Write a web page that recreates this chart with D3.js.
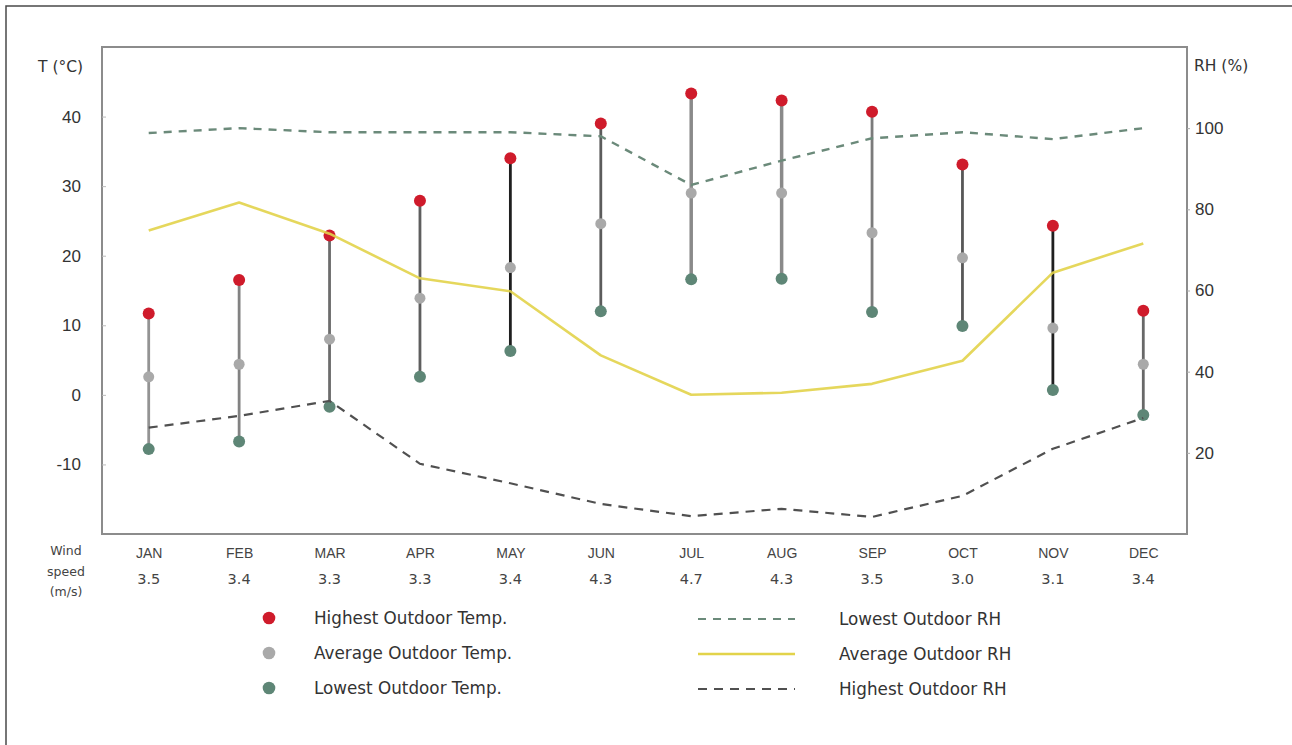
<!DOCTYPE html>
<html>
<head>
<meta charset="utf-8">
<script src="https://cdn.jsdelivr.net/npm/d3@7"></script>
<style>
  body { margin: 0; background: #fff; }
  svg { display: block; font-family: "DejaVu Sans", "Liberation Sans", sans-serif; }
</style>
</head>
<body>
<svg id="chart" width="1292" height="745"></svg>
<script>
// Monthly climate summary: temperatures (°C), relative humidity (%), wind speed (m/s)
const months = ["JAN", "FEB", "MAR", "APR", "MAY", "JUN", "JUL", "AUG", "SEP", "OCT", "NOV", "DEC"];
const windSpeed = [3.5, 3.4, 3.3, 3.3, 3.4, 4.3, 4.7, 4.3, 3.5, 3.0, 3.1, 3.4];

const tempHigh = [11.7, 16.5, 22.9, 27.9, 34.0, 39.0, 43.3, 42.3, 40.7, 33.1, 24.3, 12.1];
const tempAvg  = [2.6, 4.4, 8.0, 13.9, 18.3, 24.6, 29.0, 29.0, 23.3, 19.7, 9.6, 4.4];
const tempLow  = [-7.8, -6.7, -1.7, 2.6, 6.3, 12.0, 16.6, 16.7, 11.9, 9.9, 0.7, -2.9];

const rhUpper = [98.8, 100, 99, 99, 99, 98, 86, 92, 97.5, 99, 97.3, 100];
const rhAvg   = [74.8, 81.7, 74.0, 63.0, 59.8, 44.0, 34.3, 34.8, 37.0, 42.7, 64.4, 71.6];
const rhLower = [26.2, 29.1, 32.8, 17.3, 12.5, 7.4, 4.4, 6.2, 4.2, 9.4, 21.0, 28.6];

const tempTicks = [-10, 0, 10, 20, 30, 40];
const rhTicks = [20, 40, 60, 80, 100];

const tempLegend = ["Highest Outdoor Temp.", "Average Outdoor Temp.", "Lowest Outdoor Temp."];
const rhLegend = ["Lowest Outdoor RH", "Average Outdoor RH", "Highest Outdoor RH"];

// ---- layout ----
const svg = d3.select("#chart");
const plot = { left: 102, right: 1187, top: 47, bottom: 534 };

const x = d3.scalePoint().domain(months).range([plot.left + 1.5, plot.right + 1.5]).padding(0.5);
const yT = d3.scaleLinear().domain([-20, 50]).range([plot.bottom, plot.top]);
const yR = d3.scaleLinear().domain([0, 120]).range([plot.bottom, plot.top]);

const colors = {
  high: "#cf1b2b",
  avg: "#a9a9a9",
  low: "#5e8676",
  rhUpper: "#6b8a7a",
  rhAvg: "#e2d34a",
  rhLower: "#505050",
  axis: "#8c8c8c",
  text: "#333"
};
const stemShade = {
  JAN: "#939393", FEB: "#828282", MAR: "#6c6c6c", APR: "#5e5e5e", MAY: "#1f1f1f", JUN: "#5c5c5c",
  JUL: "#8a8a8a", AUG: "#8a8a8a", SEP: "#7b7b7b", OCT: "#575757", NOV: "#1f1f1f", DEC: "#686868"
};

// outer frame edges
svg.append("path")
  .attr("d", `M6,745 L6,6 L1292,6`)
  .attr("fill", "none").attr("stroke", "#4a4a4a").attr("stroke-width", 1.5);

// plot box
svg.append("rect")
  .attr("x", plot.left).attr("y", plot.top)
  .attr("width", plot.right - plot.left).attr("height", plot.bottom - plot.top)
  .attr("fill", "none").attr("stroke", colors.axis).attr("stroke-width", 2);

// left temperature axis (plain hyphen for negatives)
const leftAxis = svg.append("g")
  .attr("transform", `translate(${plot.left},0)`)
  .call(d3.axisLeft(yT).tickValues(tempTicks).tickFormat(d => String(d)).tickSize(-4).tickPadding(21));
leftAxis.select(".domain").remove();
leftAxis.selectAll(".tick line").attr("stroke", "#bbb");
leftAxis.selectAll(".tick text")
  .attr("fill", colors.text).style("font-size", "17px");

// right humidity axis
const rightAxis = svg.append("g")
  .attr("transform", `translate(${plot.right},0)`)
  .call(d3.axisRight(yR).tickValues(rhTicks).tickFormat(d => String(d)).tickSize(3).tickPadding(5));
rightAxis.select(".domain").remove();
rightAxis.selectAll(".tick line").attr("stroke", "#aaa");
rightAxis.selectAll(".tick text")
  .attr("fill", colors.text).style("font-size", "17px");

// axis titles
svg.append("text").attr("x", 38).attr("y", 72)
  .attr("fill", colors.text).style("font-size", "15.5px").text("T (°C)");
svg.append("text").attr("x", 1194).attr("y", 71)
  .attr("fill", colors.text).style("font-size", "15.5px").text("RH (%)");

// month labels
const bottomAxis = svg.append("g")
  .attr("transform", `translate(0,${plot.bottom})`)
  .call(d3.axisBottom(x).tickSize(0).tickPadding(14));
bottomAxis.select(".domain").remove();
bottomAxis.selectAll(".tick text")
  .attr("fill", "#444").style("font-size", "14px");

// wind speed row
svg.append("g").selectAll("text")
  .data(months)
  .join("text")
  .attr("x", d => x(d))
  .attr("y", 584)
  .attr("text-anchor", "middle")
  .attr("fill", "#444")
  .style("font-size", "14.5px")
  .text((d, i) => windSpeed[i].toFixed(1));

svg.append("text")
  .attr("text-anchor", "middle").attr("fill", "#444").style("font-size", "12.5px")
  .selectAll("tspan")
  .data(["Wind", "speed", "(m/s)"])
  .join("tspan")
  .attr("x", 66)
  .attr("y", (d, i) => 555 + i * 20.5)
  .text(d => d);

// temperature range stems and dots
const stems = svg.append("g");
months.forEach((m, i) => {
  stems.append("line")
    .attr("x1", x(m)).attr("x2", x(m))
    .attr("y1", yT(tempLow[i])).attr("y2", yT(tempHigh[i]))
    .attr("stroke", stemShade[m])
    .attr("stroke-width", (m === "JUL" || m === "AUG") ? 3.5 : 2.8);
});

const dotR = 6;
svg.append("g").selectAll("circle")
  .data(months).join("circle")
  .attr("cx", d => x(d)).attr("cy", (d, i) => yT(tempAvg[i]))
  .attr("r", dotR - 0.5).attr("fill", colors.avg);
svg.append("g").selectAll("circle")
  .data(months).join("circle")
  .attr("cx", d => x(d)).attr("cy", (d, i) => yT(tempLow[i]))
  .attr("r", dotR).attr("fill", colors.low);
svg.append("g").selectAll("circle")
  .data(months).join("circle")
  .attr("cx", d => x(d)).attr("cy", (d, i) => yT(tempHigh[i]))
  .attr("r", dotR).attr("fill", colors.high);

// humidity lines
const rhLine = vals => d3.line()
  .x((d, i) => x(months[i]))
  .y(d => yR(d))(vals);

svg.append("path")
  .attr("d", rhLine(rhAvg))
  .attr("fill", "none").attr("stroke", colors.rhAvg)
  .attr("stroke-width", 2.6).attr("stroke-opacity", 0.9)
  .attr("stroke-linejoin", "round");

svg.append("path")
  .attr("d", rhLine(rhUpper))
  .attr("fill", "none").attr("stroke", colors.rhUpper)
  .attr("stroke-width", 2.4).attr("stroke-dasharray", "8,7");

svg.append("path")
  .attr("d", rhLine(rhLower))
  .attr("fill", "none").attr("stroke", colors.rhLower)
  .attr("stroke-width", 2.2).attr("stroke-dasharray", "9,7");

// legend: temperature markers
const legT = svg.append("g");
const tColors = [colors.high, colors.avg, colors.low];
const legRows = [618, 653, 688];
tempLegend.forEach((label, i) => {
  legT.append("circle").attr("cx", 269).attr("cy", legRows[i]).attr("r", 6.3).attr("fill", tColors[i]);
  legT.append("text").attr("x", 314).attr("y", legRows[i] + 6)
    .attr("fill", colors.text).style("font-size", "16.8px").text(label);
});

// legend: humidity lines
const legR = svg.append("g");
const rStyles = [
  { stroke: colors.rhUpper, dash: "8,7", w: 2 },
  { stroke: colors.rhAvg, dash: null, w: 2.4 },
  { stroke: colors.rhLower, dash: "9,7", w: 2 }
];
const legRowsR = [619, 654, 689];
rhLegend.forEach((label, i) => {
  legR.append("line")
    .attr("x1", 698).attr("x2", 795)
    .attr("y1", legRowsR[i]).attr("y2", legRowsR[i])
    .attr("stroke", rStyles[i].stroke).attr("stroke-width", rStyles[i].w)
    .attr("stroke-dasharray", rStyles[i].dash);
  legR.append("text").attr("x", 839).attr("y", legRowsR[i] + 6)
    .attr("fill", colors.text).style("font-size", "16.8px").text(label);
});
</script>
</body>
</html>
